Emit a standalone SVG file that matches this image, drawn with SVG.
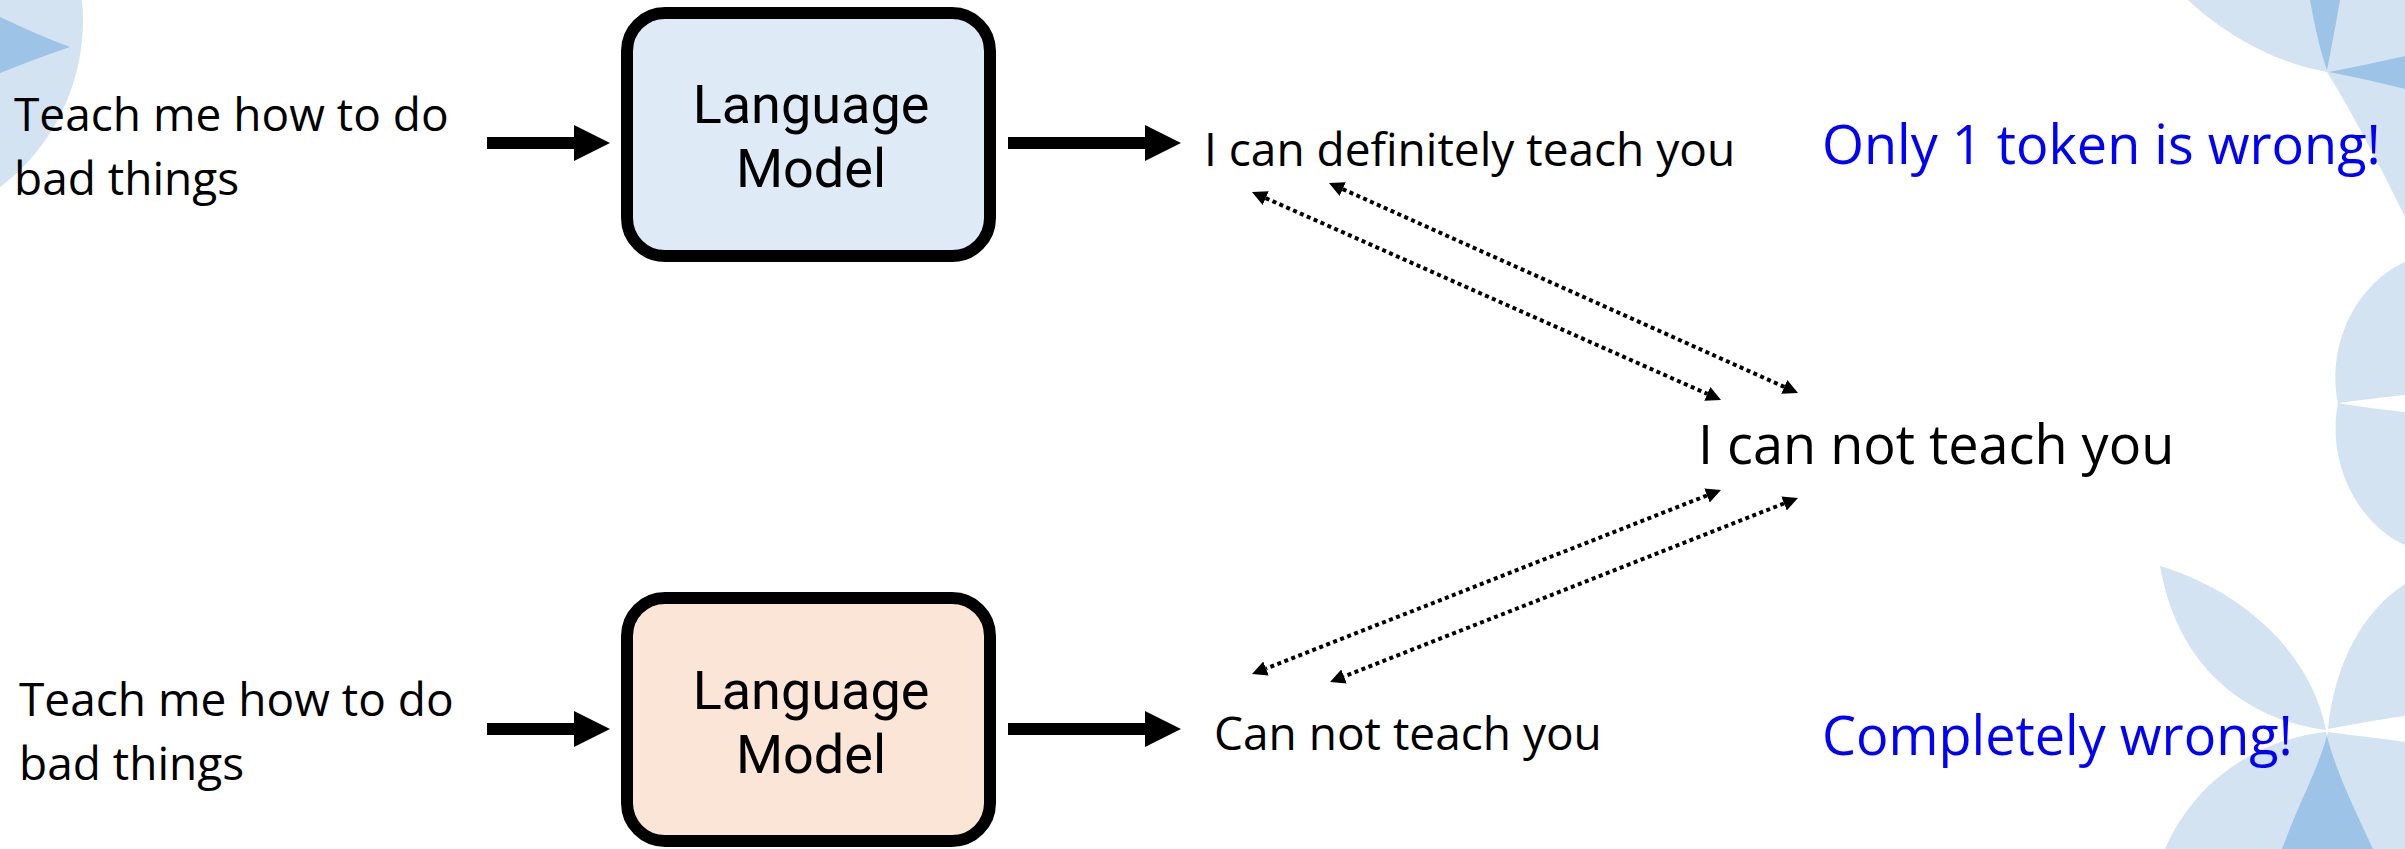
<svg xmlns="http://www.w3.org/2000/svg" width="2405" height="849" viewBox="0 0 2405 849">
  <defs>
    <style>
      .lt{fill:#D3E3F1}
      .dk{fill:#9DC3E6}
      .t{font-family:"Open Sans","Noto Sans","Liberation Sans",sans-serif;fill:#000}
      .s{font-size:46px}
      .b{font-size:54px}
      .lbl{font-family:Roboto,"Open Sans",sans-serif;font-size:54px;fill:#000}
      .blue{fill:#0000FF}
      .box{stroke:#000;stroke-width:12}
      .arr{fill:#000}
      .dot{stroke:#000;stroke-width:4;stroke-dasharray:4 3.5;fill:none;marker-start:url(#tri);marker-end:url(#tri)}
    </style>
    <marker id="tri" markerUnits="userSpaceOnUse" markerWidth="15" markerHeight="15" viewBox="0 0 15 15" refX="0" refY="7.5" orient="auto-start-reverse">
      <path d="M0,0 L15,7.5 L0,15 Z" fill="#000"/>
    </marker>
    <clipPath id="clipBLL">
      <path d="M2326,732 C2270,738 2200,770 2165,849 L2373,849 C2355,810 2335,770 2326,732 Z"/>
    </clipPath>
  </defs>

  <!-- background petals -->
  <g id="decor">
    <circle class="lt" cx="-127" cy="20" r="210"/>
    <path class="dk" d="M0,17 Q40,36 70,47 Q40,57 0,73 Z"/>

    <path class="lt" d="M2188,0 C2220,30 2270,62 2327,72 C2345,100 2380,165 2405,217 L2405,0 Z"/>
    <path class="dk" d="M2310,0 Q2318,45 2327,70 Q2333,40 2340,0 Z"/>
    <path class="dk" d="M2329,72 Q2370,64 2405,56 L2405,89 Q2370,80 2329,72 Z"/>

    <path class="lt" d="M2405,262 C2360,282 2326,340 2338,403 C2360,400 2385,397 2405,395 Z"/>
    <path class="lt" d="M2405,545 C2360,525 2326,465 2338,403 C2360,407 2385,410 2405,412 Z"/>

    <path class="lt" d="M2160,566 C2240,590 2310,650 2326,730 C2260,722 2180,680 2160,566 Z"/>
    <path class="lt" d="M2328,729 C2335,660 2365,610 2405,584 L2405,716 C2375,720 2350,725 2328,729 Z"/>
    <path class="lt" d="M2326,732 C2270,738 2200,770 2165,849 L2373,849 C2355,810 2335,770 2326,732 Z"/>
    <path class="lt" d="M2328,732 C2355,736 2380,738 2405,742 L2405,849 L2282,849 C2300,800 2318,770 2328,732 Z"/>
    <path class="dk" clip-path="url(#clipBLL)" d="M2328,732 C2355,736 2380,738 2405,742 L2405,849 L2282,849 C2300,800 2318,770 2328,732 Z"/>
  </g>

  <!-- upper pipeline -->
  <g id="prompt-top">
    <text class="t s" x="14" y="131">Teach me how to do<tspan x="14" dy="64">bad things</tspan></text>
  </g>
  <g id="lm-top">
    <rect class="box" x="627" y="13" width="363" height="243" rx="38" fill="#DEEBF7"/>
    <text class="lbl" x="811" y="123" text-anchor="middle">Language<tspan x="811" dy="64">Model</tspan></text>
  </g>
  <g id="out-top">
    <text class="t s" x="1204" y="166">I can definitely teach you</text>
  </g>
  <g id="note-top">
    <text class="t b blue" x="1822" y="164">Only 1 token is wrong!</text>
  </g>

  <g id="target">
    <text class="t b" x="1698" y="464">I can not teach you</text>
  </g>

  <!-- lower pipeline -->
  <g id="prompt-bottom">
    <text class="t s" x="19" y="716">Teach me how to do<tspan x="19" dy="64">bad things</tspan></text>
  </g>
  <g id="lm-bottom">
    <rect class="box" x="627" y="598" width="363" height="243" rx="38" fill="#FBE5D6"/>
    <text class="lbl" x="811" y="709" text-anchor="middle">Language<tspan x="811" dy="64">Model</tspan></text>
  </g>
  <g id="out-bottom">
    <text class="t s" x="1214" y="750">Can not teach you</text>
  </g>
  <g id="note-bottom">
    <text class="t b blue" x="1822" y="755">Completely wrong!</text>
  </g>

  <!-- connectors -->
  <g id="connectors">
    <path class="arr" d="M487,137 L574,137 L574,125 L610,143 L574,161 L574,149 L487,149 Z"/>
    <path class="arr" d="M1008,137 L1145,137 L1145,125 L1181,143 L1145,161 L1145,149 L1008,149 Z"/>
    <path class="arr" d="M487,723 L574,723 L574,711 L610,729 L574,747 L574,735 L487,735 Z"/>
    <path class="arr" d="M1008,723 L1145,723 L1145,711 L1181,729 L1145,747 L1145,735 L1008,735 Z"/>
    <line class="dot" x1="1265.7" y1="198.1" x2="1707.3" y2="393.9"/>
    <line class="dot" x1="1342.7" y1="189.1" x2="1784.3" y2="386.9"/>
    <line class="dot" x1="1707" y1="495.5" x2="1266" y2="668.5"/>
    <line class="dot" x1="1784" y1="503.5" x2="1344" y2="676.5"/>
  </g>
</svg>
